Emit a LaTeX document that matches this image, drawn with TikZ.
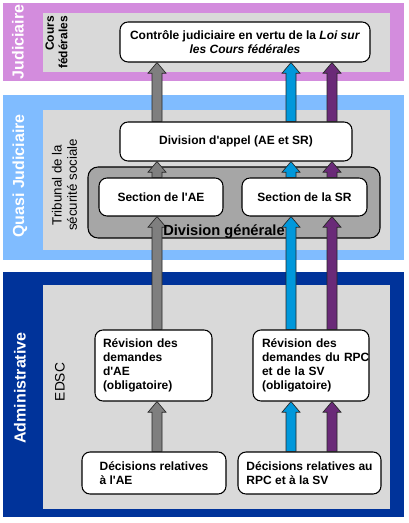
\documentclass[tikz,border=0pt]{standalone}
\usepackage{fontspec}
\setmainfont{Liberation Sans}
\usetikzlibrary{calc}
\newcommand{\apos}{\textquotesingle}
\definecolor{bandviolet}{HTML}{D38CDD}
\definecolor{bandlight}{HTML}{80BCFF}
\definecolor{banddark}{HTML}{00339A}
\definecolor{areagrey}{HTML}{D9D9D9}
\definecolor{divgrey}{HTML}{A6A6A6}
\definecolor{arrgrey}{HTML}{7F7F7F}
\definecolor{arrblue}{HTML}{0098DB}
\definecolor{arrpurple}{HTML}{6A2A78}
\begin{document}
\begin{tikzpicture}[x=0.75pt,y=-0.75pt,
  box/.style={draw=black, line width=0.8pt, fill=white, rounded corners=6pt,
    inner sep=0pt, font=\fontsize{9}{10.5}\selectfont\bfseries},
  sidelabel/.style={rotate=90, text=white, inner sep=0pt,
    font=\fontsize{12}{14}\selectfont\bfseries},
  fatarrow/.style={draw=black!85, line width=0.5pt, fill=#1,
    to path={let \p1=(\tikztostart), \p2=(\tikztotarget) in
      (\x1-3.75pt,\y1) -- (\x1-3.75pt,\y2-8pt) -- (\x1-6.75pt,\y2-8pt) --
      (\x1,\y2) -- (\x1+6.75pt,\y2-8pt) -- (\x1+3.75pt,\y2-8pt) --
      (\x1+3.75pt,\y1) -- cycle}},
]
% page
\fill[white] (0,0) rectangle (408,523);
% bands
\fill[bandviolet] (3,3) rectangle (404,81);
\fill[areagrey] (43,13) rectangle (390,72);
\fill[bandlight] (3,95) rectangle (404,260);
\fill[areagrey] (43,110) rectangle (390,250);
\fill[banddark] (3,272) rectangle (404,517);
\fill[areagrey] (43,285) rectangle (390,509);

% division generale
\node[draw=black, line width=0.8pt, fill=divgrey, rounded corners=7.5pt,
  minimum width=219pt, minimum height=53.25pt, inner sep=0pt] (divgen) at (234,202.5) {};

% boxes
\node[box, minimum width=187.5pt, minimum height=30pt, align=center] (ctrl) at (245,42)
  {Contrôle judiciaire en vertu de la \textit{Loi sur}\\\textit{les Cours fédérales}};
\node[box, minimum width=174pt, minimum height=29.25pt] (appel) at (236,141.5)
  {Division d\apos appel (AE et SR)};
\node[box, minimum width=93pt, minimum height=28.5pt] (secAE) at (161,197)
  {Section de l\apos AE};
\node[box, minimum width=93.75pt, minimum height=28.5pt] (secSR) at (304.5,197)
  {Section de la SR};
\node[box, minimum width=87.75pt, minimum height=53.25pt, text width=75.75pt, align=left] (revAE) at (153.5,365.5)
  {Révision des\\demandes\\d\apos AE\\(obligatoire)};
\node[box, minimum width=87pt, minimum height=53.25pt, text width=73.5pt, align=left] (revSV) at (311,365.5)
  {Révision des\\\mbox{demandes du RPC}\\et de la SV\\(obligatoire)};
\node[box, minimum width=108pt, minimum height=31.5pt, align=left] (decAE) at (154,473)
  {Décisions relatives\\à l\apos AE};
\node[box, minimum width=107.25pt, minimum height=31.5pt, align=left] (decRPC) at (309.5,473)
  {Décisions relatives au\\RPC et à la SV};

% arrow columns
\coordinate (gx) at (157,0);
\coordinate (bx) at (291,0);
\coordinate (px) at (332,0);

% grey arrows
\path[fatarrow=arrgrey] (decAE.north -| gx) to (revAE.south -| gx);
\path[fatarrow=arrgrey] (revAE.north -| gx) to (secAE.south -| gx);
\path[fatarrow=arrgrey] (secAE.north -| gx) to (appel.south -| gx);
\path[fatarrow=arrgrey] (appel.north -| gx) to (ctrl.south -| gx);
% blue arrows
\path[fatarrow=arrblue] (decRPC.north -| bx) to (revSV.south -| bx);
\path[fatarrow=arrblue] (revSV.north -| bx) to (secSR.south -| bx);
\path[fatarrow=arrblue] (secSR.north -| bx) to (appel.south -| bx);
\path[fatarrow=arrblue] (appel.north -| bx) to (ctrl.south -| bx);
% purple arrows
\path[fatarrow=arrpurple] (decRPC.north -| px) to (revSV.south -| px);
\path[fatarrow=arrpurple] (revSV.north -| px) to (secSR.south -| px);
\path[fatarrow=arrpurple] (secSR.north -| px) to (appel.south -| px);
\path[fatarrow=arrpurple] (appel.north -| px) to (ctrl.south -| px);

% labels
\node[inner sep=0pt, font=\fontsize{11}{12}\selectfont\bfseries] (divgenlbl) at (224,232) {Division générale};
\node[sidelabel] (judlbl) at (18,42) {Judiciaire};
\node[sidelabel] (quasilbl) at (20,176) {Quasi Judiciaire};
\node[sidelabel] (adminlbl) at (20,388) {Administrative};
\node[rotate=90, anchor=east, align=right, inner sep=0pt,
  font=\fontsize{9}{10}\selectfont\bfseries] (cours) at (56.5,16) {Cours\\fédérales};
\node[rotate=90, align=center, inner sep=0pt,
  font=\fontsize{10}{11.3}\selectfont] (tribunal) at (64.5,185) {Tribunal de la\\sécurité sociale};
\node[rotate=90, inner sep=0pt, font=\fontsize{10.3}{12}\selectfont] (edsc) at (60,382) {EDSC};
\end{tikzpicture}
\end{document}
